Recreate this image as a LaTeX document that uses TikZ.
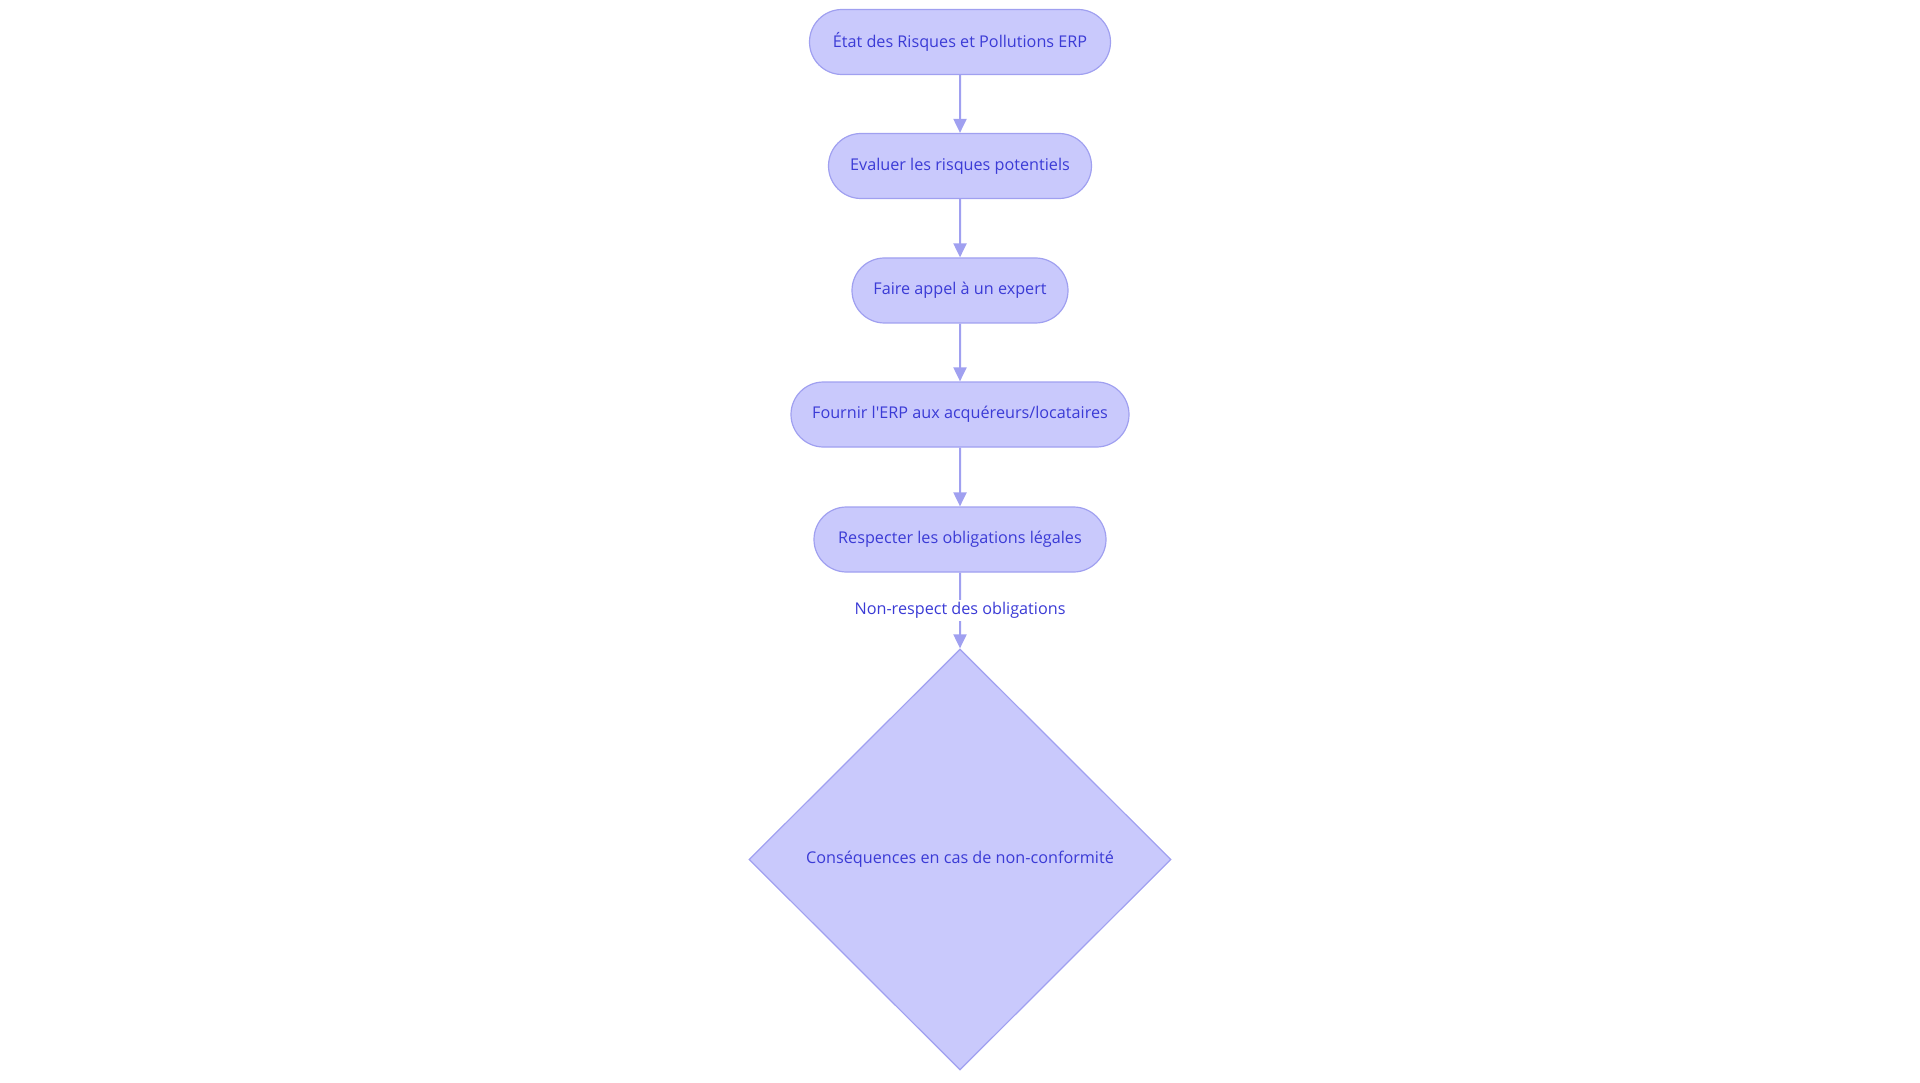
\documentclass[tikz,border=0pt]{standalone}
\usepackage{fontspec}
\setmainfont{Open Sans}[Ligatures=TeXOff]
\usetikzlibrary{shapes.geometric,shapes.misc,arrows.meta}
\definecolor{nodefill}{RGB}{201,201,252}
\definecolor{nodeline}{RGB}{160,160,240}
\definecolor{nodetext}{RGB}{59,59,214}
\begin{document}
\begin{tikzpicture}[x=1pt,y=-1pt,
  pill/.style={rounded rectangle, draw=nodeline, fill=nodefill, line width=1.2pt,
    text=nodetext, minimum height=65pt, inner xsep=0pt, font=\fontsize{16.2}{19}\selectfont},
  decision/.style={diamond, draw=nodeline, fill=nodefill, line width=1.2pt,
    text=nodetext, minimum width=422pt, minimum height=421pt, inner sep=0pt,
    font=\fontsize{16.2}{19}\selectfont},
  conn/.style={draw=nodeline, line width=2pt, -{Triangle[length=14pt,width=13pt]}},
  lbl/.style={fill=white, text=nodetext, inner sep=2pt, font=\fontsize{16.2}{19}\selectfont}]
\useasboundingbox (0,0) rectangle (1920,1083);
\node[pill, minimum width=301pt] (a) at (960,42) {État des Risques et Pollutions ERP};
\node[pill, minimum width=263pt] (b) at (960,166) {Evaluer les risques potentiels};
\node[pill, minimum width=216pt] (c) at (960,290.5) {Faire appel à un expert};
\node[pill, minimum width=338pt] (d) at (960,414.5) {Fournir l'ERP aux acquéreurs/locataires};
\node[pill, minimum width=292pt] (e) at (960,539.5) {Respecter les obligations légales};
\node[decision] (f) at (960,859.5) {Conséquences en cas de non-conformité};
\draw[conn] (a) -- (b);
\draw[conn] (b) -- (c);
\draw[conn] (c) -- (d);
\draw[conn] (d) -- (e);
\draw[conn] (e) -- node[lbl, pos=0.5] (l) {Non-respect des obligations} (f);
\end{tikzpicture}
\end{document}
